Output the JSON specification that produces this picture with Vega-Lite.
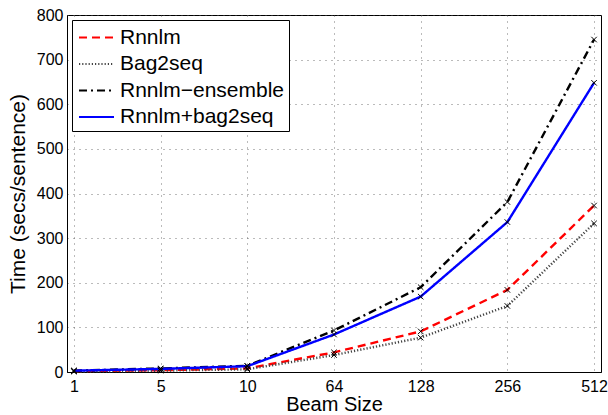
{
  "$schema": "https://vega.github.io/schema/vega-lite/v6.json",
  "width": 534,
  "height": 357,
  "autosize": {"type": "none"},
  "padding": {"left": 67, "top": 15, "right": 7, "bottom": 43},
  "background": "white",
  "config": {
    "font": "Liberation Sans",
    "view": {"stroke": "black", "strokeWidth": 1},
    "axis": {
      "grid": true,
      "gridDash": [1, 5],
      "gridColor": "#555555",
      "gridOpacity": 0.8,
      "domainColor": "black",
      "ticks": false,
      "labelColor": "black",
      "labelFontSize": 16,
      "titleColor": "black",
      "titleFontSize": 21,
      "titleFontWeight": "normal"
    }
  },
  "data": {
    "values": [
      {"beam": "1", "series": "Rnnlm", "time": 2},
      {"beam": "5", "series": "Rnnlm", "time": 4},
      {"beam": "10", "series": "Rnnlm", "time": 8},
      {"beam": "64", "series": "Rnnlm", "time": 44},
      {"beam": "128", "series": "Rnnlm", "time": 91},
      {"beam": "256", "series": "Rnnlm", "time": 184},
      {"beam": "512", "series": "Rnnlm", "time": 373},
      {"beam": "1", "series": "Bag2seq", "time": 1},
      {"beam": "5", "series": "Bag2seq", "time": 3},
      {"beam": "10", "series": "Bag2seq", "time": 6},
      {"beam": "64", "series": "Bag2seq", "time": 38},
      {"beam": "128", "series": "Bag2seq", "time": 77},
      {"beam": "256", "series": "Bag2seq", "time": 148},
      {"beam": "512", "series": "Bag2seq", "time": 333},
      {"beam": "1", "series": "Rnnlm−ensemble", "time": 3},
      {"beam": "5", "series": "Rnnlm−ensemble", "time": 8},
      {"beam": "10", "series": "Rnnlm−ensemble", "time": 14},
      {"beam": "64", "series": "Rnnlm−ensemble", "time": 93},
      {"beam": "128", "series": "Rnnlm−ensemble", "time": 190},
      {"beam": "256", "series": "Rnnlm−ensemble", "time": 381},
      {"beam": "512", "series": "Rnnlm−ensemble", "time": 745},
      {"beam": "1", "series": "Rnnlm+bag2seq", "time": 3},
      {"beam": "5", "series": "Rnnlm+bag2seq", "time": 7},
      {"beam": "10", "series": "Rnnlm+bag2seq", "time": 13},
      {"beam": "64", "series": "Rnnlm+bag2seq", "time": 84},
      {"beam": "128", "series": "Rnnlm+bag2seq", "time": 169},
      {"beam": "256", "series": "Rnnlm+bag2seq", "time": 336},
      {"beam": "512", "series": "Rnnlm+bag2seq", "time": 648}
    ]
  },
  "layer": [
    {
      "mark": {"type": "line", "strokeWidth": 2.4},
      "encoding": {
        "x": {
          "field": "beam",
          "type": "ordinal",
          "sort": ["1", "5", "10", "64", "128", "256", "512"],
          "scale": {"type": "point", "padding": 0.08},
          "axis": {"title": "Beam Size", "titleFontSize": 20, "labelAngle": 0, "labelPadding": 6, "titlePadding": 0.5}
        },
        "y": {
          "field": "time",
          "type": "quantitative",
          "scale": {"domain": [0, 800], "nice": false},
          "axis": {"title": "Time (secs/sentence)", "values": [0, 100, 200, 300, 400, 500, 600, 700, 800], "labelPadding": 4, "titlePadding": 8}
        },
        "color": {
          "field": "series",
          "type": "nominal",
          "scale": {
            "domain": ["Rnnlm", "Bag2seq", "Rnnlm−ensemble", "Rnnlm+bag2seq"],
            "range": ["#ff0000", "#444444", "#000000", "#0000ff"]
          },
          "legend": {
            "title": null,
            "orient": "none",
            "legendX": 5,
            "legendY": 5,
            "symbolType": "M-1.4,0L1.4,0",
            "symbolSize": 625,
            "symbolStrokeWidth": 2,
            "symbolOffset": 7,
            "labelFontSize": 21,
            "labelColor": "black",
            "labelOffset": 10,
            "labelLimit": 400,
            "padding": 4,
            "rowPadding": 2.5,
            "strokeColor": "black",
            "fillColor": "white"
          }
        },
        "strokeDash": {
          "field": "series",
          "type": "nominal",
          "scale": {
            "domain": ["Rnnlm", "Bag2seq", "Rnnlm−ensemble", "Rnnlm+bag2seq"],
            "range": [[8, 5], [1.2, 2], [8, 4, 2, 4], [1, 0]]
          }
        }
      }
    },
    {
      "mark": {"type": "point", "shape": "M-1,-1L1,1M-1,1L1,-1", "size": 30, "filled": false, "color": "black", "strokeWidth": 1, "opacity": 1},
      "encoding": {
        "x": {"field": "beam", "type": "ordinal", "sort": ["1", "5", "10", "64", "128", "256", "512"]},
        "y": {"field": "time", "type": "quantitative"}
      }
    }
  ]
}
